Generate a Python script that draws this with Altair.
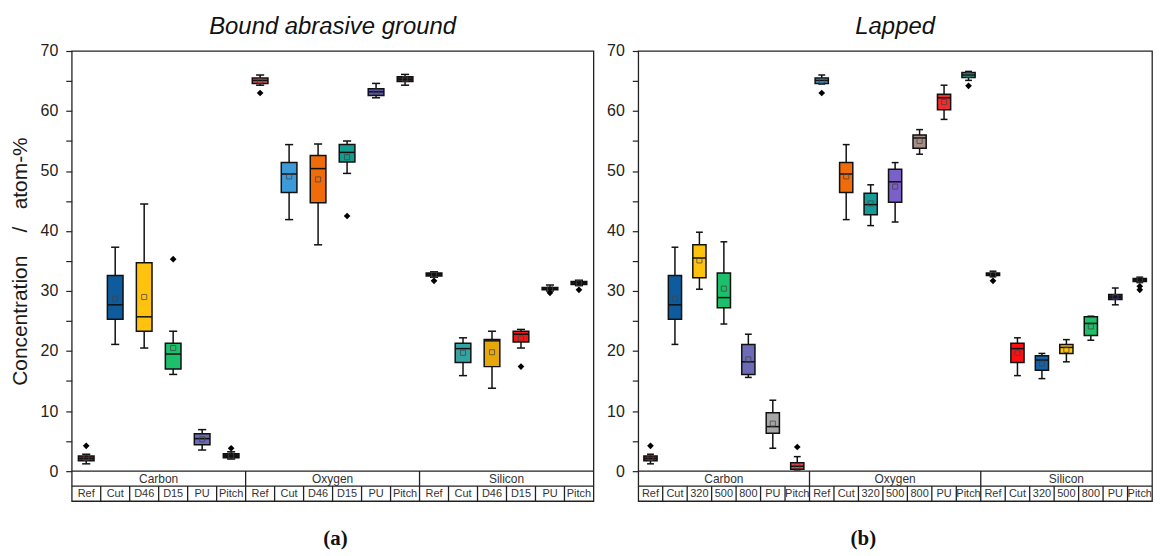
import altair as alt
import pandas as pd

FONT = "Liberation Sans"
ELEMENTS = ["Carbon", "Oxygen", "Silicon"]

# ---------------- panel (a): bound abrasive ground ----------------
A_TITLE = "Bound abrasive ground"
A_SAMPLES = ["Ref", "Cut", "D46", "D15", "PU", "Pitch"]
A_COLORS = ["#9b1b1b", "#0e5c9e", "#ffc20e", "#1dbf6a", "#6b6bb8", "#1c1c1c",
            "#e8474f", "#3d9ad8", "#f06b0a", "#169c8e", "#5b55b5", "#3a2a2a",
            "#222222", "#36a3a3", "#e5a70a", "#ef1616", "#1f74bf", "#1a1a1a"]
A_LO = [1.2, 21.1, 20.5, 16.1, 3.5, 2.0, 64.3, 41.9, 37.7, 49.6, 62.2, 64.3,
        32.3, 15.9, 13.8, 20.5, 30.0, 30.9]
A_Q1 = [1.7, 25.3, 23.3, 17.0, 4.4, 2.2, 64.6, 46.4, 44.7, 51.5, 62.6, 64.9,
        32.5, 18.1, 17.4, 21.5, 30.2, 31.1]
A_MED = [2.1, 27.7, 25.7, 19.5, 5.4, 2.5, 65.1, 49.5, 50.4, 53.1, 63.2, 65.3,
         32.8, 20.4, 21.7, 22.8, 30.4, 31.4]
A_Q3 = [2.5, 32.6, 34.7, 21.3, 6.2, 2.9, 65.5, 51.4, 52.6, 54.4, 63.7, 65.7,
        33.0, 21.3, 21.9, 23.3, 30.6, 31.6]
A_HI = [2.8, 37.3, 44.5, 23.3, 6.9, 3.2, 66.0, 54.4, 54.5, 55.0, 64.6, 66.1,
        33.2, 22.2, 23.3, 23.6, 31.0, 31.8]
A_MEAN = [2.2, 28.7, 29.0, 20.5, 5.3, 2.6, 65.0, 49.1, 48.6, 52.3, 63.2, 65.3,
          32.7, 19.7, 19.8, 22.1, 30.4, 31.3]
A_OUT_IDX = [0, 3, 5, 6, 9, 12, 15, 16, 17]
A_OUT_VAL = [4.2, 35.3, 3.8, 63.0, 42.5, 31.7, 17.4, 29.7, 30.2]

# ---------------- panel (b): lapped ----------------
B_TITLE = "Lapped"
B_SAMPLES = ["Ref", "Cut", "320", "500", "800", "PU", "Pitch"]
B_COLORS = ["#9b1b1b", "#0e5c9e", "#ffc20e", "#1dbf6a", "#6b6bb8", "#a6a6a6", "#f24848",
            "#3d9ad8", "#f06b0a", "#169c96", "#7a60c8", "#a58e85", "#f22c2c", "#27a39a",
            "#222222", "#ff1010", "#1463a8", "#ffc20e", "#1dbf6a", "#2a2a5e", "#1a1a1a"]
B_LO = [1.2, 21.1, 30.3, 24.5, 15.6, 3.8, 0.2, 64.5, 41.9, 40.9, 41.5, 52.8, 58.6, 65.1,
        32.4, 15.9, 15.4, 18.2, 21.8, 27.7, 31.4]
B_Q1 = [1.7, 25.3, 32.2, 27.2, 16.1, 6.3, 0.3, 64.6, 46.4, 42.7, 44.8, 53.8, 60.2, 65.6,
        32.6, 18.1, 16.8, 19.6, 22.6, 28.6, 31.6]
B_MED = [2.1, 27.7, 35.5, 28.9, 18.2, 7.4, 0.8, 65.1, 49.5, 44.4, 48.2, 55.5, 62.2, 66.0,
         32.8, 20.4, 18.5, 20.6, 24.6, 29.0, 31.9]
B_Q3 = [2.5, 32.6, 37.7, 33.0, 21.1, 9.7, 1.4, 65.5, 51.4, 46.3, 50.3, 56.0, 62.8, 66.4,
        33.0, 21.3, 19.2, 21.1, 25.7, 29.4, 32.1]
B_HI = [2.8, 37.3, 39.8, 38.2, 22.8, 11.8, 2.4, 66.0, 54.4, 47.7, 51.4, 56.9, 64.3, 66.6,
        33.3, 22.2, 19.6, 21.9, 25.8, 30.5, 32.3]
B_MEAN = [2.2, 28.7, 35.1, 30.4, 18.6, 7.9, 0.8, 65.0, 49.1, 44.6, 47.4, 55.0, 61.5, 66.0,
          32.7, 19.7, 17.9, 20.2, 24.1, 29.0, 31.9]
B_OUT_IDX = [0, 6, 7, 13, 14, 20, 20]
B_OUT_VAL = [4.2, 4.0, 63.0, 64.2, 31.7, 30.8, 30.2]

Y_MIN, Y_MAX = -5, 70        # table occupies the strip below 0
ROW = 2.5                    # height of one table row in y units


def panel(title, samples, colors, lo, q1, med, q3, hi, mean, out_idx, out_val,
          width, ytitle, tag, tag_x):
    k = len(samples)
    n = k * len(ELEMENTS)
    df = pd.DataFrame({"i": list(range(n)), "lo": lo, "q1": q1, "med": med,
                       "q3": q3, "hi": hi, "mean": mean, "col": colors})
    X = alt.Scale(domain=[0, n], nice=False, zero=False)
    Y = alt.Scale(domain=[Y_MIN, Y_MAX], nice=False, zero=False)
    yaxis = alt.Axis(values=list(range(0, 75, 5)),
                     labelExpr="datum.value % 10 === 0 ? datum.label : ''",
                     title=ytitle if ytitle else "", titleFont=FONT, titleFontSize=21,
                     titleFontWeight="normal", titleColor="#1a1a1a",
                     titlePadding=10, titleY=211, domain=False)

    def yy(field):
        return alt.Y(field, scale=Y, axis=yaxis)

    def xx(field):
        return alt.X(field, scale=X, axis=None)

    base = alt.Chart(df).transform_calculate(
        xc="datum.i + 0.5", xl="datum.i + 0.23", xr="datum.i + 0.77",
        cl="datum.i + 0.36", cr="datum.i + 0.64")

    whisk = base.mark_rule(color="#111", strokeWidth=1.5).encode(
        x=xx("xc:Q"), y=yy("lo:Q"), y2="hi:Q")
    cap_lo = base.mark_rule(color="#111", strokeWidth=1.5).encode(
        x=xx("cl:Q"), x2="cr:Q", y=yy("lo:Q"))
    cap_hi = base.mark_rule(color="#111", strokeWidth=1.5).encode(
        x=xx("cl:Q"), x2="cr:Q", y=yy("hi:Q"))
    box = base.mark_rect(stroke="#111", strokeWidth=1.5).encode(
        x=xx("xl:Q"), x2="xr:Q", y=yy("q1:Q"), y2="q3:Q",
        fill=alt.Fill("col:N", scale=None))
    medl = base.mark_rule(color="#111", strokeWidth=1.5).encode(
        x=xx("xl:Q"), x2="xr:Q", y=yy("med:Q"))
    meanp = base.mark_point(shape="square", filled=False, size=26, strokeWidth=1,
                            color="#444", opacity=0.75).encode(
        x=xx("xc:Q"), y=yy("mean:Q"))

    odf = pd.DataFrame({"i": out_idx, "v": out_val})
    outs = alt.Chart(odf).transform_calculate(xc="datum.i + 0.5").mark_point(
        shape="diamond", filled=True, size=45, color="#000", opacity=1).encode(
        x=xx("xc:Q"), y=yy("v:Q"))

    # ---- category table below the plot ----
    hdf = pd.DataFrame({"y": [0, -ROW], "x0": [0, 0], "x1": [n, n]})
    hl = alt.Chart(hdf).mark_rule(color="#222", strokeWidth=1.3).encode(
        x=xx("x0:Q"), x2="x1:Q", y=yy("y:Q"))
    vx = [k * g for g in range(1, len(ELEMENTS))] + list(range(1, n))
    vy0 = [0] * (len(ELEMENTS) - 1) + [-ROW] * (n - 1)
    vy1 = [-ROW] * (len(ELEMENTS) - 1) + [-2 * ROW] * (n - 1)
    vdf = pd.DataFrame({"x": vx, "y0": vy0, "y1": vy1})
    vl = alt.Chart(vdf).mark_rule(color="#222", strokeWidth=1.3).encode(
        x=xx("x:Q"), y=yy("y0:Q"), y2="y1:Q")
    edf = pd.DataFrame({"name": ELEMENTS,
                        "x": [k * g + k / 2 for g in range(len(ELEMENTS))],
                        "y": [-ROW / 2] * len(ELEMENTS)})
    etxt = alt.Chart(edf).mark_text(font=FONT, fontSize=12, color="#333",
                                    baseline="middle").encode(
        x=xx("x:Q"), y=yy("y:Q"), text="name:N")
    sdf = pd.DataFrame({"name": samples * len(ELEMENTS),
                        "x": [i + 0.5 for i in range(n)],
                        "y": [-1.5 * ROW] * n})
    stxt = alt.Chart(sdf).mark_text(font=FONT, fontSize=11, color="#333",
                                    baseline="middle").encode(
        x=xx("x:Q"), y=yy("y:Q"), text="name:N")
    tdf = pd.DataFrame({"name": [tag], "x": [tag_x], "y": [-11.3]})
    ttxt = alt.Chart(tdf).mark_text(font="Liberation Serif", fontSize=21,
                                    fontWeight="bold", color="#111",
                                    baseline="middle").encode(
        x=xx("x:Q"), y=yy("y:Q"), text="name:N")

    return alt.layer(whisk, cap_lo, cap_hi, box, medl, meanp, outs,
                     hl, vl, etxt, stxt, ttxt).properties(
        width=width, height=452,
        title=alt.TitleParams(title, font=FONT, fontSize=24, fontStyle="italic",
                              fontWeight="normal", color="#111",
                              anchor="middle", offset=4))


left = panel(A_TITLE, A_SAMPLES, A_COLORS, A_LO, A_Q1, A_MED, A_Q3, A_HI, A_MEAN,
             A_OUT_IDX, A_OUT_VAL, 524,
             "Concentration\u00a0\u00a0\u00a0\u00a0/\u00a0\u00a0\u00a0atom-%", "(a)", 9.1)
right = panel(B_TITLE, B_SAMPLES, B_COLORS, B_LO, B_Q1, B_MED, B_Q3, B_HI, B_MEAN,
              B_OUT_IDX, B_OUT_VAL, 516, None, "(b)", 9.2)

chart = alt.hconcat(left, right, spacing=10).properties(
    padding={"top": 5, "left": 0, "right": 0, "bottom": 0}
).configure_view(
    stroke="#222", strokeWidth=1.3
).configure_axis(
    labelFont=FONT, labelFontSize=16, labelColor="#222",
    tickColor="#222", tickSize=6, tickWidth=1.2, labelPadding=8, grid=False
)

chart.save("out.html", embed_options={"renderer": "svg", "actions": False})
